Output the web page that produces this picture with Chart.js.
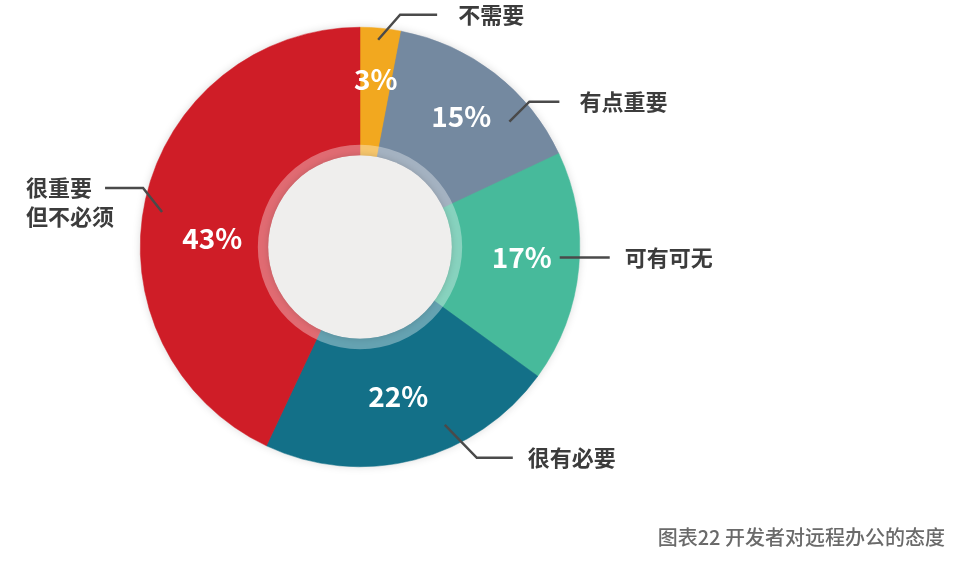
<!DOCTYPE html>
<html><head><meta charset="utf-8">
<script src="https://cdn.jsdelivr.net/npm/chart.js@4/dist/chart.umd.min.js"></script>
<style>html,body{margin:0;padding:0;background:#fff;}#wrap{position:relative;width:954px;height:564px;}</style>
</head><body><div id="wrap"><canvas id="c" width="954" height="564"></canvas></div>
<script>
const categories = ['不需要', '有点重要', '可有可无', '很有必要', '很重要\n但不必须'];
const values = [3, 15, 17, 22, 43];
const colors = ['#F2A81F', '#7489A0', '#47BA9B', '#137088', '#CF1D27'];
const title = '图表22 开发者对远程办公的态度';

const FONT = '"Noto Sans CJK SC", "Noto Sans", sans-serif';
// label placement relative to each arc: angle fraction, label radius, leader line
const place = [
  {frac:0.5, r:168, la:5,   lr:208, ex:22,  ey:-25, hx:37,  gap:21, side:1},
  {frac:0.5, r:165, la:50,  lr:195, ex:20,  ey:-20, hx:30,  gap:20, side:1},
  {frac:0.47,r:162, la:93,  lr:200, ex:0,   ey:0,   hx:50,  gap:15, side:1},
  {frac:0.5, r:154, la:154.5,lr:197,ex:32,  ey:33,  hx:36,  gap:15, side:1},
  {frac:0.44,r:148, la:280, lr:201, ex:-19, ey:-24, hx:-38, gap:0,  side:-1}
];

const overlay = {
  id:'overlay',
  beforeDatasetsDraw(chart){
    const arc = chart.getDatasetMeta(0).data[0];
    const ctx = chart.ctx;
    ctx.save();
    ctx.shadowColor='rgba(0,0,0,0.18)';
    ctx.shadowBlur=10;
    ctx.beginPath();
    ctx.arc(arc.x, arc.y, arc.outerRadius-1, 0, Math.PI*2);
    ctx.fillStyle='#888';
    ctx.fill();
    ctx.restore();
  },
  afterDatasetsDraw(chart){
    const meta = chart.getDatasetMeta(0);
    const ctx = chart.ctx;
    const a0 = meta.data[0];
    const cx = a0.x, cy = a0.y, R = a0.outerRadius;
    // translucent ring
    ctx.save();
    ctx.beginPath();
    ctx.arc(cx, cy, R*0.465, 0, Math.PI*2);
    ctx.arc(cx, cy, R*0.418, 0, Math.PI*2, true);
    ctx.fillStyle='rgba(255,255,255,0.35)';
    ctx.fill();
    // inner disk
    ctx.shadowColor='rgba(0,0,0,0.15)';
    ctx.shadowBlur=6;
    ctx.beginPath();
    ctx.arc(cx, cy, R*0.418, 0, Math.PI*2);
    ctx.fillStyle='#EFEEED';
    ctx.fill();
    ctx.restore();

    // percent labels
    ctx.save();
    ctx.fillStyle='#fff';
    ctx.font='bold 28px ' + FONT;
    ctx.textAlign='center';
    ctx.textBaseline='middle';
    meta.data.forEach((arc,i)=>{
      const p = place[i];
      const ang = arc.startAngle + (arc.endAngle-arc.startAngle)*p.frac;
      ctx.fillText(values[i]+'%', cx + Math.cos(ang)*p.r, cy + Math.sin(ang)*p.r);
    });
    ctx.restore();

    // leader lines and category labels
    ctx.save();
    ctx.strokeStyle='#4a4a4a';
    ctx.lineWidth=2.5;
    ctx.fillStyle='#3c3c3c';
    ctx.font='bold 22px ' + FONT;
    ctx.textBaseline='middle';
    meta.data.forEach((arc,i)=>{
      const p = place[i];
      const ang = (p.la-90)*Math.PI/180;
      const sx = cx + Math.cos(ang)*p.lr, sy = cy + Math.sin(ang)*p.lr;
      const ex = sx + p.ex, ey = sy + p.ey;
      const hx = ex + p.hx;
      ctx.beginPath();
      ctx.moveTo(sx, sy);
      ctx.lineTo(ex, ey);
      ctx.lineTo(hx, ey);
      ctx.stroke();
      const lines = categories[i].split('\n');
      ctx.textAlign='left';
      if (p.side>0){
        ctx.fillText(lines[0], hx+p.gap, ey);
      } else {
        ctx.fillText(lines[0], 26, ey);
        ctx.fillText(lines[1], 26, ey+29);
      }
    });
    ctx.restore();

    // title
    ctx.save();
    ctx.fillStyle='#6a6a6a';
    ctx.font='500 20px ' + FONT;
    ctx.textAlign='right';
    ctx.textBaseline='middle';
    ctx.fillText(title, 945, 537);
    ctx.restore();
  }
};

new Chart(document.getElementById('c'), {
  type:'doughnut',
  data:{ labels: categories, datasets:[{ data: values, backgroundColor: colors, borderColor: colors, borderWidth: 0.5 }]},
  options:{
    responsive:false, animation:false,
    cutout:'38%',
    layout:{ padding:{ left:140, right:374, top:27, bottom:97 } },
    plugins:{ legend:{display:false}, tooltip:{enabled:false} }
  },
  plugins:[overlay]
});
</script></body></html>
